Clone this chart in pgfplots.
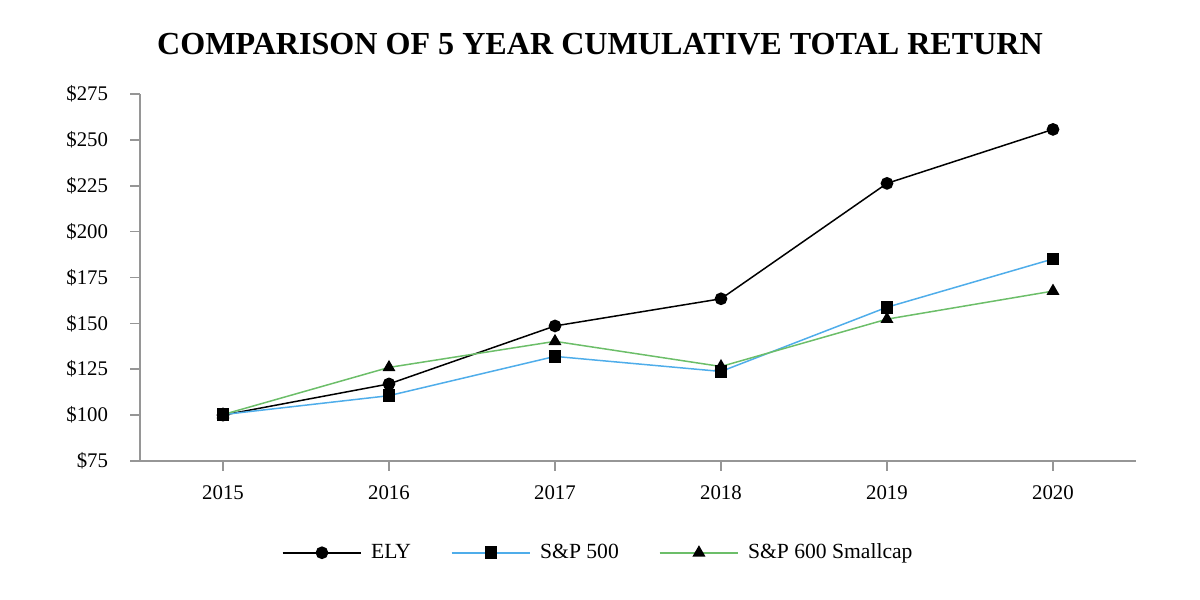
\documentclass[border=0pt]{standalone}
\usepackage{pgfplots}
\pgfplotsset{compat=1.18}
\usepackage{fontspec}
\setmainfont{Liberation Serif}
\definecolor{spblue}{RGB}{79,173,234}
\definecolor{spgreen}{RGB}{108,190,105}
\definecolor{axgray}{RGB}{150,150,150}
\begin{document}
\begin{tikzpicture}
\path[use as bounding box] (0,0) rectangle (600bp,300bp);
\node[font=\fontsize{16.05bp}{18bp}\selectfont\bfseries] at (300bp,278bp) {COMPARISON OF 5 YEAR CUMULATIVE TOTAL RETURN};
\begin{axis}[
  at={(70bp,69.5bp)}, anchor=south west,
  scale only axis, width=498bp, height=183.5bp,
  xmin=2014.5, xmax=2020.5, ymin=75, ymax=275,
  axis x line*=bottom, axis y line*=left,
  axis line style={axgray, line width=0.8bp, -},
  xtick={2015,...,2020}, ytick={75,100,...,275},
  tick align=outside, major tick length=5bp,
  tick style={axgray, line width=0.8bp},
  x tick label style={/pgf/number format/1000 sep={}, yshift=-4bp},
  y tick label style={xshift=-7.5bp},
  /pgf/number format/assume math mode=true,
  yticklabel={\$\pgfmathprintnumber{\tick}},
  ticklabel style={font=\fontsize{10.4bp}{12bp}\selectfont},
  legend columns=3,
  legend style={draw=none, at={(0.461,-0.25)}, anchor=center,
    font=\fontsize{10.8bp}{12bp}\selectfont,
    /tikz/every even column/.append style={column sep=18bp},
    /tikz/every odd column/.append style={column sep=2.5bp}},
  legend image code/.code={\draw[mark repeat=2,mark phase=2] plot coordinates {(0cm,0cm)(0.695cm,0cm)(1.39cm,0cm)};},
]
\addplot[black, line width=0.75bp, mark=*, mark size=2.8bp, mark options={fill=black}] coordinates {
(2015,100) (2016,117) (2017,148.6) (2018,163.4) (2019,226.3) (2020,255.7)};
\addlegendentry{ELY}
\addplot[spblue, line width=0.75bp, mark=square*, mark size=2.8bp, mark options={fill=black,draw=black}] coordinates {
(2015,100.3) (2016,110.6) (2017,132) (2018,123.8) (2019,158.8) (2020,185.1)};
\addlegendentry{S\&P 500}
\addplot[spgreen, line width=0.75bp, mark=triangle*, mark size=3bp, mark options={fill=black,draw=black}] coordinates {
(2015,100.3) (2016,126) (2017,140.2) (2018,126.5) (2019,152.3) (2020,167.6)};
\addlegendentry{S\&P 600 Smallcap}
\end{axis}
\end{tikzpicture}
\end{document}
